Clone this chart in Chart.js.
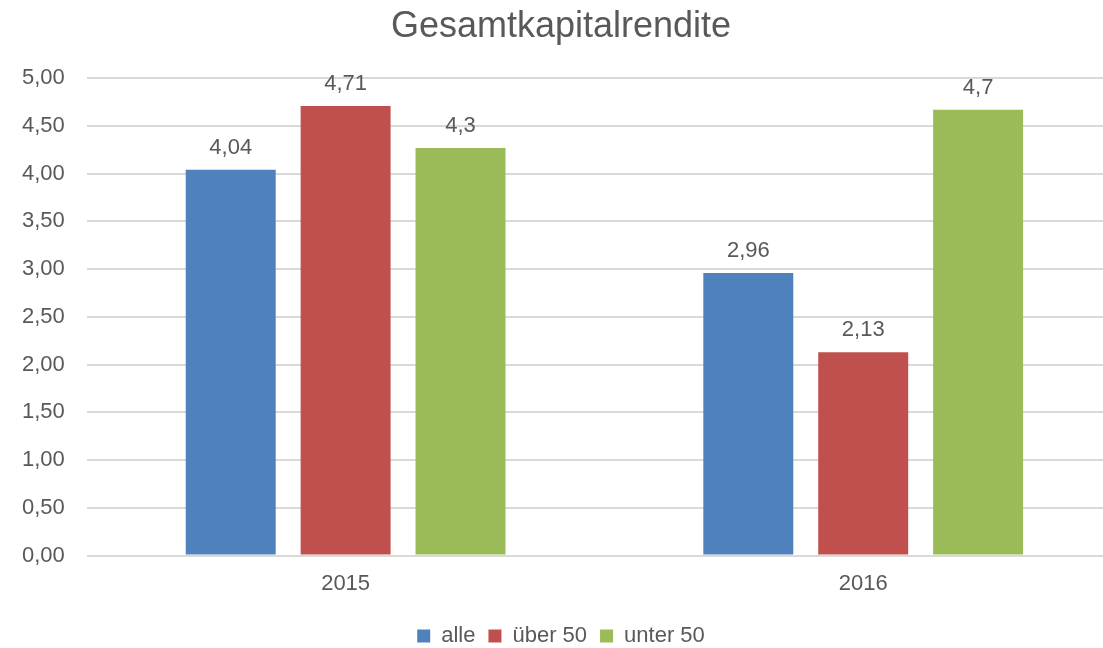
<!DOCTYPE html>
<html>
<head>
<meta charset="utf-8">
<script src="https://cdn.jsdelivr.net/npm/chart.js@4"></script>
<style>
  html, body { margin: 0; padding: 0; background: #fff; overflow: hidden; }
  #wrap { width: 1122px; height: 648px; }
</style>
</head>
<body>
<div id="wrap"><canvas id="chart"></canvas></div>
<script>
// chart data
var years = ['2015', '2016'];
var seriesNames = ['alle', 'über 50', 'unter 50'];
var alle = [4.04, 2.96];
var ueber50 = [4.71, 2.13];
var unter50 = [4.27, 4.67];
// labels as printed above the bars
var alleLabels = ['4,04', '2,96'];
var ueber50Labels = ['4,71', '2,13'];
var unter50Labels = ['4,3', '4,7'];
var yTicks = [0, 0.5, 1, 1.5, 2, 2.5, 3, 3.5, 4, 4.5, 5];

var textColor = '#595959';
var fontFamily = "'Liberation Sans', 'DejaVu Sans', sans-serif";

var valueLabels = {
    id: 'valueLabels',
    afterDatasetsDraw: function (chart) {
        var ctx = chart.ctx;
        ctx.save();
        ctx.fillStyle = textColor;
        ctx.font = '22px ' + fontFamily;
        ctx.textAlign = 'center';
        ctx.textBaseline = 'bottom';
        chart.data.datasets.forEach(function (ds, i) {
            var meta = chart.getDatasetMeta(i);
            meta.data.forEach(function (bar, j) {
                ctx.fillText(ds.valueText[j], bar.x, bar.y - 11);
            });
        });
        ctx.restore();
    }
};

var ctx = document.getElementById('chart').getContext('2d');
new Chart(ctx, {
    type: 'bar',
    data: {
        labels: years,
        datasets: [{
            label: seriesNames[0],
            data: alle,
            valueText: alleLabels,
            backgroundColor: '#4F81BD'
        }, {
            label: seriesNames[1],
            data: ueber50,
            valueText: ueber50Labels,
            backgroundColor: '#C0504D'
        }, {
            label: seriesNames[2],
            data: unter50,
            valueText: unter50Labels,
            backgroundColor: '#9BBB59'
        }]
    },
    options: {
        responsive: true,
        maintainAspectRatio: false,
        animation: false,
        categoryPercentage: 0.666,
        barPercentage: 0.783,
        layout: { padding: { left: 0, right: 0, top: 4, bottom: -9 } },
        plugins: {
            title: {
                display: true,
                text: 'Gesamtkapitalrendite',
                color: textColor,
                font: { family: fontFamily, size: 36, weight: 'normal' },
                padding: { top: 1, bottom: 30 }
            },
            legend: {
                position: 'bottom',
                labels: {
                    color: textColor,
                    font: { family: fontFamily, size: 22 },
                    boxWidth: 13,
                    boxHeight: 13,
                    padding: 13
                }
            },
            tooltip: { enabled: false }
        },
        scales: {
            x: {
                grid: { display: false, drawTicks: false },
                border: { display: false },
                ticks: {
                    color: textColor,
                    font: { family: fontFamily, size: 22 },
                    padding: 15
                }
            },
            y: {
                min: 0,
                max: 5,
                afterBuildTicks: function (axis) {
                    axis.ticks = yTicks.map(function (v) { return { value: v }; });
                },
                grid: { color: '#D9D9D9', lineWidth: 2, drawTicks: false },
                border: { display: false },
                ticks: {
                    color: textColor,
                    font: { family: fontFamily, size: 22 },
                    padding: 22,
                    callback: function (v) { return v.toFixed(2).replace('.', ','); }
                }
            }
        }
    },
    plugins: [valueLabels]
});
</script>
</body>
</html>
